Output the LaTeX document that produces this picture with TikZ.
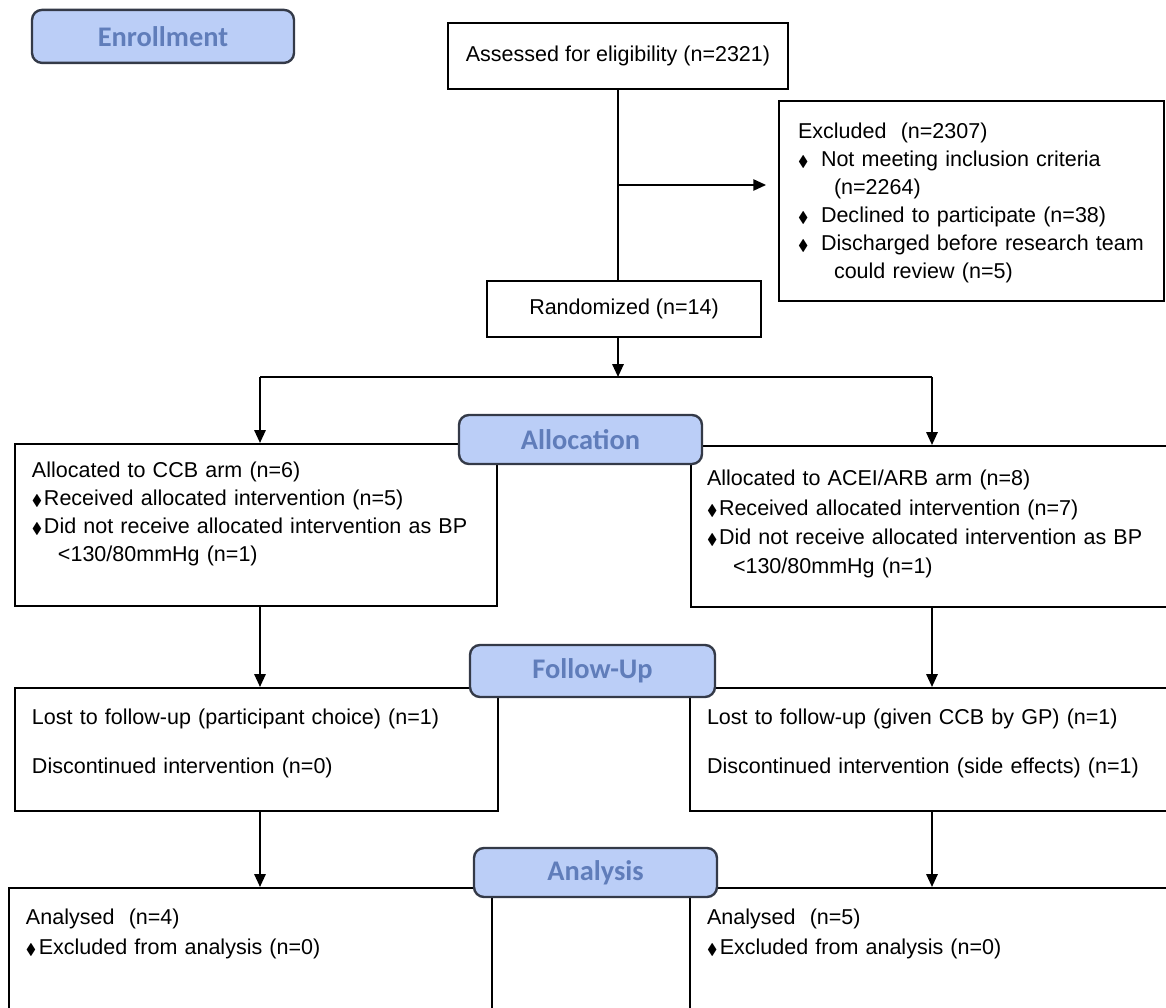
\documentclass[tikz,border=0pt]{standalone}
\usepackage{fontspec}
\usepackage{amssymb}
\setmainfont{Liberation Sans}
\newfontfamily\headfont{Carlito}
\usetikzlibrary{arrows.meta}
\definecolor{headfill}{RGB}{187,206,247}
\definecolor{headtext}{RGB}{96,125,186}
\definecolor{headline}{RGB}{52,58,72}
\newcommand{\dia}{{\fontsize{11}{11}\selectfont$\blacklozenge$}}
\newcommand{\bul}[1]{\makebox[#1][l]{\dia}}

\begin{document}
\begin{tikzpicture}[line width=0.05cm, >={Triangle[length=0.32cm,width=0.28cm]},
	phase/.style={draw=headline, line width=0.06cm, fill=headfill, rounded corners=0.25cm, text=headtext, font={\headfont\bfseries\fontsize{20.2}{24}\selectfont}},
	box/.style={draw, inner sep=0, font={\fontsize{15.3}{19.85}\selectfont}},
	txt/.style={inner sep=0, anchor=base west, text width=11.5cm, align=left, font={\fontsize{15.3}{19.85}\selectfont}}]
	\useasboundingbox (0,0) rectangle (29.15,25.2);
	\node[box, minimum width=8.5cm, minimum height=1.65cm] (B) at (15.45,23.8) {Assessed for eligibility (n=2321)};
	\node[box, minimum width=9.625cm, minimum height=5cm] (X) at (24.29,20.175) {};
	\node[box, minimum width=6.85cm, minimum height=1.4cm] (R) at (15.6,17.475) {Randomized (n=14)};
	\node[box, minimum width=12.05cm, minimum height=4.05cm] (L1) at (6.4,12.075) {};
	\node[box, minimum width=12.725cm, minimum height=4.025cm] (R1) at (23.6375,12.0375) {};
	\node[box, minimum width=12.075cm, minimum height=3.075cm] (L2) at (6.4125,6.4625) {};
	\node[box, minimum width=12.75cm, minimum height=3.075cm] (R2) at (23.625,6.4625) {};
	\node[box, minimum width=12.075cm, minimum height=3.8cm] (L3) at (6.2625,1.1) {};
	\node[box, minimum width=12.75cm, minimum height=3.8cm] (R3) at (23.625,1.1) {};
	\node[phase, minimum width=6.55cm, minimum height=1.325cm] (E) at (4.075,24.29) {Enrollment};
	\node[phase, minimum width=6.075cm, minimum height=1.225cm] (H1) at (14.5125,14.2125) {Allocation};
	\node[phase, minimum width=6.125cm, minimum height=1.3cm] (H2) at (14.8125,8.425) {Follow-Up};
	\node[phase, minimum width=6.075cm, minimum height=1.225cm] (H3) at (14.8875,3.3875) {Analysis};
	\node[txt] (TX) at (19.925,21.725) {Excluded\ \ (n=2307)\\ \bul{0.575cm}Not meeting inclusion criteria\\ \hspace*{0.9cm}(n=2264)\\ \bul{0.575cm}Declined to participate (n=38)\\ \bul{0.575cm}Discharged before research team\\ \hspace*{0.9cm}could review (n=5)};
	\node[txt] (TL1) at (0.775,13.25) {Allocated to CCB arm (n=6)\\ \bul{0.3cm}Received allocated intervention (n=5)\\ \bul{0.3cm}Did not receive allocated intervention as BP\\ \hspace*{0.65cm}<130/80mmHg (n=1)};
	\node[txt] (TR1) at (17.65,13.05) {Allocated to ACEI/ARB arm (n=8)\\[1pt] \bul{0.3cm}Received allocated intervention (n=7)\\[1pt] \bul{0.3cm}Did not receive allocated intervention as BP\\[1pt] \hspace*{0.65cm}<130/80mmHg (n=1)};
	\node[txt] (TL2) at (0.775,7.075) {Lost to follow-up (participant choice) (n=1)\\[0.525cm] Discontinued intervention (n=0)};
	\node[txt] (TR2) at (17.65,7.075) {Lost to follow-up (given CCB by GP) (n=1)\\[0.525cm] Discontinued intervention (side effects) (n=1)};
	\node[txt] (TL3) at (0.625,2.075) {Analysed\ \ (n=4)\\[0.05cm] \bul{0.32cm}Excluded from analysis (n=0)};
	\node[txt] (TR3) at (17.65,2.075) {Analysed\ \ (n=5)\\[0.05cm] \bul{0.32cm}Excluded from analysis (n=0)};
	\coordinate (P0) at (15.45,20.575);
	\coordinate (P1) at (15.45,15.775);
	\coordinate (PL) at (6.5,15.775);
	\coordinate (PR) at (23.3,15.775);
	\draw (B.south) -- (B.south |- R.north);
	\draw[->, shorten >=0.3cm] (P0) -- (P0 -| X.west);
	\draw[->] (B.south |- R.south) -- (P1);
	\draw (PL) -- (PR);
	\draw[->] (PL) -- (PL |- L1.north);
	\draw[->] (PR) -- (PR |- R1.north);
	\draw[->] (PL |- L1.south) -- (PL |- L2.north);
	\draw[->] (PR |- R1.south) -- (PR |- R2.north);
	\draw[->] (PL |- L2.south) -- (PL |- L3.north);
	\draw[->] (PR |- R2.south) -- (PR |- R3.north);
\end{tikzpicture}
\end{document}
